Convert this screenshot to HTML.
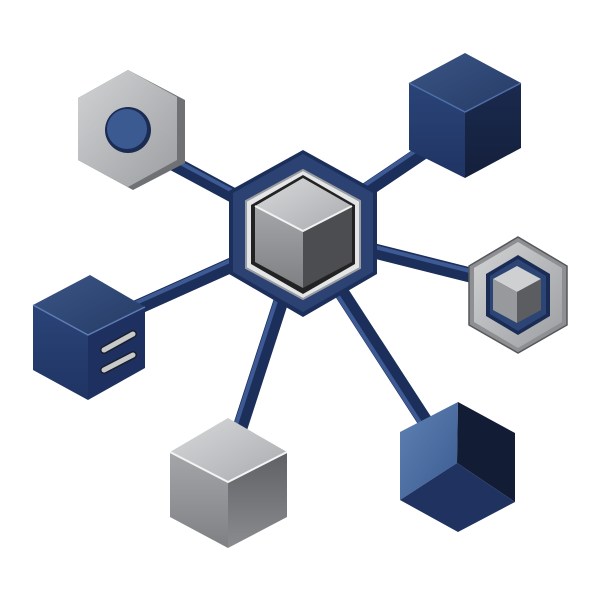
<!DOCTYPE html>
<html><head><meta charset="utf-8"><style>html,body{margin:0;padding:0;background:#fff;}svg{display:block}</style></head>
<body>
<svg width="600" height="600" viewBox="0 0 600 600" xmlns="http://www.w3.org/2000/svg">
<defs>
<linearGradient id="silverT" x1="0" y1="0" x2="1" y2="1"><stop offset="0" stop-color="#d8d9db"/><stop offset="1" stop-color="#a9abae"/></linearGradient>
<linearGradient id="silverL" x1="0" y1="0" x2="0" y2="1"><stop offset="0" stop-color="#a4a6a9"/><stop offset="1" stop-color="#7e8083"/></linearGradient>
<linearGradient id="silverR" x1="0" y1="0" x2="0" y2="1"><stop offset="0" stop-color="#5e6063"/><stop offset="1" stop-color="#8a8c8f"/></linearGradient>
<linearGradient id="hexS" x1="0" y1="0" x2="1" y2="1"><stop offset="0" stop-color="#d2d3d5"/><stop offset="1" stop-color="#9c9ea1"/></linearGradient>
<linearGradient id="blueT" x1="0" y1="0" x2="1" y2="1"><stop offset="0" stop-color="#3b5585"/><stop offset="1" stop-color="#253b66"/></linearGradient>
<linearGradient id="blueL" x1="0" y1="0" x2="0" y2="1"><stop offset="0" stop-color="#2a4478"/><stop offset="1" stop-color="#1f3463"/></linearGradient>
<linearGradient id="blueR" x1="0" y1="0" x2="0" y2="1"><stop offset="0" stop-color="#1a2a4e"/><stop offset="1" stop-color="#141f3b"/></linearGradient>
<linearGradient id="blueLight" x1="0" y1="0" x2="1" y2="1"><stop offset="0" stop-color="#5f82b3"/><stop offset="1" stop-color="#3a5b90"/></linearGradient>
</defs>

<!-- connectors -->
<g stroke-linecap="butt" fill="none">
<g stroke="#1c2f5a" stroke-width="15">
<line x1="160" y1="156" x2="303" y2="233"/>
<line x1="445" y1="137" x2="303" y2="233"/>
<line x1="303" y1="233" x2="490" y2="280"/>
<line x1="120" y1="315" x2="303" y2="233"/>
<line x1="303" y1="233" x2="236" y2="440"/>
<line x1="303" y1="233" x2="432" y2="432"/>
</g>
<g stroke="#3d5a94" stroke-width="4">
<line x1="160" y1="152" x2="303" y2="229"/>
<line x1="442" y1="133" x2="300" y2="229"/>
<line x1="303" y1="229" x2="490" y2="276"/>
<line x1="118" y1="311" x2="301" y2="229"/>
<line x1="298" y1="233" x2="231" y2="440"/>
<line x1="299" y1="236" x2="428" y2="435"/>
</g>
</g>

<!-- center hex -->
<polygon points="303,150 377,191 377,274 303,317 229,274 229,191" fill="#1c2f5a"/>
<polygon points="303,154 373,193 373,272 303,312 233,272 233,193" fill="#2b4272"/>
<polygon points="303,170 360,201 360,268 303,299 246,268 246,201" fill="#e4e5e7" stroke="#9a9c9f" stroke-width="2"/>
<polygon points="303,175 355,205 355,264 303,294 251,264 251,205" fill="#222"/>
<polygon points="303,178 352,206 303,231 255,206" fill="url(#silverT)"/>
<polygon points="255,206 303,231 303,288 255,262" fill="url(#silverL)"/>
<polygon points="303,231 352,206 352,262 303,288" fill="#4b4d50"/>
<polyline points="255,206 303,231 352,206" fill="none" stroke="#f2f2f2" stroke-width="2"/>

<!-- top-left gray hex -->
<polygon points="128,70 185,100 185,163 133,190 78,160 78,98" fill="#6f7174"/>
<polygon points="128,70 177,97 177,160 128,187 78,160 78,98" fill="url(#hexS)"/>
<circle cx="128" cy="130" r="23" fill="#1b2b52"/>
<circle cx="127" cy="129" r="20" fill="#3b5a92"/>

<!-- top-right blue cube -->
<polygon points="409,83 465,53 521,83 465,112" fill="url(#blueT)"/>
<polygon points="409,83 465,112 465,178 409,150" fill="url(#blueL)"/>
<polygon points="465,112 521,83 521,148 465,178" fill="url(#blueR)"/>
<polyline points="409,83 465,112 521,83" fill="none" stroke="#4f6fa8" stroke-width="1.5"/>

<!-- right hex -->
<polygon points="518,237 567,266 567,325 518,353 469,325 469,266" fill="#8d8f92" stroke="#55575a" stroke-width="1.5"/>
<polygon points="518,242 562,268 562,322 518,348 474,322 474,268" fill="url(#hexS)"/>
<polygon points="518,255 550,274 550,316 518,335 486,316 486,274" fill="#1b2c54"/>
<polygon points="518,259 546,276 546,314 518,331 490,314 490,276" fill="#2c4574"/>
<polygon points="517,266 541,279 517,292 493,279" fill="#cfd0d2"/>
<polygon points="493,279 517,292 517,323 493,310" fill="#98999c"/>
<polygon points="517,292 541,279 541,310 517,323" fill="#5b5d60"/>

<!-- left blue cube -->
<polygon points="90,275 145,307 88,335 33,305" fill="url(#blueT)"/>
<polygon points="33,305 88,335 88,400 33,370" fill="url(#blueL)"/>
<polygon points="88,335 145,307 145,368 88,400" fill="#1d3060"/>
<polyline points="33,305 88,335 145,307" fill="none" stroke="#5d7cb2" stroke-width="1.5"/>
<g stroke-linecap="round">
<line x1="104" y1="350" x2="133" y2="334" stroke="#1a1f2a" stroke-width="8"/>
<line x1="104" y1="350" x2="133" y2="334" stroke="#c8c9cb" stroke-width="5"/>
<line x1="104" y1="370" x2="133" y2="355" stroke="#1a1f2a" stroke-width="8"/>
<line x1="104" y1="370" x2="133" y2="355" stroke="#c8c9cb" stroke-width="5"/>
</g>

<!-- bottom gray cube -->
<polygon points="228,418 287,452 228,482 170,452" fill="url(#silverT)"/>
<polygon points="170,452 228,482 228,548 170,517" fill="url(#silverL)"/>
<polygon points="228,482 287,452 287,517 228,548" fill="url(#silverR)"/>
<polyline points="170,452 228,482 287,452" fill="none" stroke="#f4f4f4" stroke-width="2"/>

<!-- bottom-right blue cube -->
<polygon points="400,432 458,402 457,463 400,500" fill="url(#blueLight)"/>
<polygon points="458,402 515,433 515,502 457,463" fill="#121c35"/>
<polygon points="400,500 457,463 515,502 458,532" fill="#1f3260"/>
</svg>
</body></html>
